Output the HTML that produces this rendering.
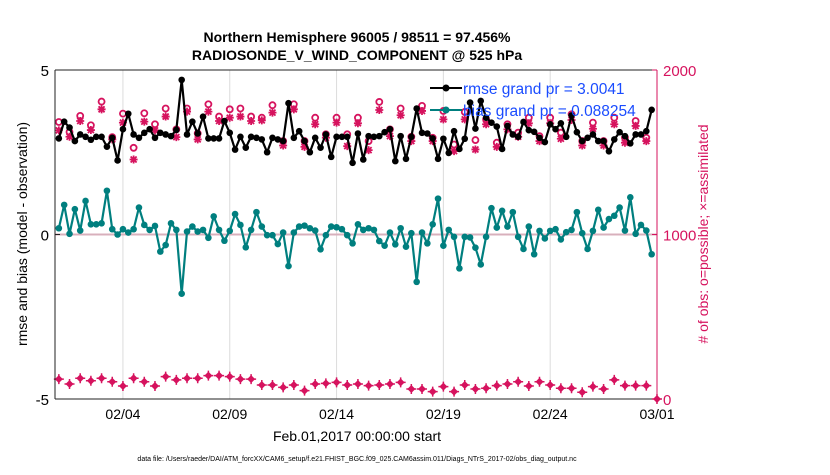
<!DOCTYPE html>
<html><head><meta charset="utf-8"><style>
body{margin:0;background:#fff;}
svg text{font-family:"Liberation Sans",Arial,sans-serif;}
</style></head><body>
<svg id="chart" width="830" height="470" xmlns="http://www.w3.org/2000/svg">
<rect width="830" height="470" fill="#fff"/>
<g id="grid"></g>
<g id="marks"></g>
<g id="axes"></g>
<text x="357" y="42" text-anchor="middle" font-size="14" font-weight="bold">Northern Hemisphere 96005 / 98511 = 97.456%</text>
<text x="357" y="60" text-anchor="middle" font-size="14" font-weight="bold">RADIOSONDE_V_WIND_COMPONENT @ 525 hPa</text>
<text transform="translate(27,234) rotate(-90)" text-anchor="middle" font-size="14">rmse and bias (model - observation)</text>
<text transform="translate(708,234) rotate(-90)" text-anchor="middle" font-size="14" fill="#d6135e">&#35; of obs: o=possible; &#215;=assimilated</text>
<text x="357" y="441" text-anchor="middle" font-size="14">Feb.01,2017 00:00:00 start</text>
<text x="357" y="461" text-anchor="middle" font-size="7">data file: /Users/raeder/DAI/ATM_forcXX/CAM6_setup/f.e21.FHIST_BGC.f09_025.CAM6assim.011/Diags_NTrS_2017-02/obs_diag_output.nc</text>
<g id="legend">
<line x1="430" y1="88" x2="462" y2="88" stroke="#000" stroke-width="2"/>
<circle cx="446" cy="88" r="3.5" fill="#000"/>
<text x="463" y="94" font-size="15.5" fill="#1a4cff">rmse grand pr = 3.0041</text>
<line x1="430" y1="110" x2="462" y2="110" stroke="#007f7f" stroke-width="2"/>
<circle cx="446" cy="110" r="3.5" fill="#007f7f"/>
<text x="463" y="116" font-size="15.5" fill="#1a4cff">bias grand pr = 0.088254</text>
</g>
</svg>
<script>
const rmse=[2.92,3.43,3.25,2.84,3.04,2.97,2.88,2.97,2.97,2.67,2.94,2.25,3.20,3.67,3.04,2.94,3.09,3.20,2.94,3.09,3.04,2.99,3.18,4.70,3.04,3.43,3.07,3.58,2.92,2.92,2.92,3.45,3.09,2.58,2.97,2.64,2.97,2.94,2.89,2.50,2.94,2.89,2.84,3.99,2.94,3.14,2.84,2.50,2.94,2.64,3.04,2.36,2.97,2.97,2.97,2.18,3.07,2.28,2.99,2.97,2.99,3.11,3.20,2.23,2.99,2.30,2.97,3.83,3.09,3.07,2.92,2.30,2.91,2.48,3.14,2.60,2.91,4.01,3.22,4.06,3.55,3.40,3.28,2.60,3.30,3.04,2.97,3.42,3.17,3.12,2.94,2.81,3.35,3.20,3.38,2.97,3.62,3.11,2.84,2.94,3.04,2.84,2.84,2.53,2.89,3.11,2.99,2.77,3.04,3.04,3.14,3.79];
const bias=[0.19,0.90,0.02,0.77,0.12,1.02,0.31,0.31,0.34,1.33,0.16,0.0,0.16,0.06,0.16,0.82,0.29,0.14,0.26,-0.52,-0.32,0.34,0.14,-1.80,0.09,0.24,0.09,0.14,-0.10,0.55,0.14,-0.19,0.11,0.62,0.29,-0.39,0.14,0.68,0.24,-0.02,-0.02,-0.29,0.06,-0.96,0.06,0.24,0.27,0.19,0.12,-0.45,-0.02,0.24,0.22,0.16,-0.02,-0.27,0.31,0.14,0.19,0.14,-0.20,-0.34,0.06,-0.30,0.19,-0.37,0.04,-1.44,0.06,-0.27,0.31,1.09,-0.34,0.14,-0.07,-1.03,-0.07,-0.09,-0.40,-0.91,-0.07,0.80,0.21,0.72,0.24,0.68,-0.07,-0.44,0.24,-0.60,0.11,-0.12,0.11,0.16,-0.15,0.07,0.14,0.68,0.04,-0.44,0.11,0.75,0.21,0.47,0.57,0.82,0.12,1.13,0.02,0.29,0.12,-0.60];
const nPossible=[1684,1623,1721,1664,1808,1592,1735,1527,1737,1670,1766,1639,1766,1615,1792,1717,1761,1766,1717,1710,1786,1568,1792,1568,1710,1609,1710,1609,1710,1568,1806,1639,1766,1594,1782,1588,1751,1547,1745,1574,1700,1558,1670,1619,1710,1598,1710,1619,1731,1568,1680,1568,1710,1588,1690,1588];
const nAssim=[1633,1594,1690,1635,1761,1578,1680,1456,1686,1633,1717,1592,1747,1578,1747,1690,1710,1717,1690,1694,1741,1541,1761,1533,1670,1588,1680,1537,1676,1513,1757,1598,1725,1568,1751,1568,1700,1507,1700,1517,1670,1533,1639,1594,1676,1568,1676,1582,1696,1541,1643,1541,1670,1558,1660,1568];
const nOther=[121,91,126,111,126,105,79,126,105,79,136,116,126,126,142,142,136,121,121,85,85,71,85,51,91,95,101,85,91,81,85,91,101,61,61,45,75,45,85,61,65,81,91,105,79,105,85,65,65,41,75,61,116,81,81,81,0];
const xTickDays=[3,8,13,18,23,28];
const xTickLabels=["02/04","02/09","02/14","02/19","02/24","03/01"];
const yLeftTicks=[-5,0,5];
const yRightTicks=[0,1000,2000];

const NS="http://www.w3.org/2000/svg";
const L=55,R=657,T=70,B=399,D0=-0.18,D1=28;
const xs=d=>L+(d-D0)/(D1-D0)*(R-L);
const yl=v=>B-(v+5)/10*(B-T);
const yr=c=>B-c/2000*(B-T);
function mk(tag,attrs,parent){const e=document.createElementNS(NS,tag);for(const k in attrs)e.setAttribute(k,attrs[k]);parent.appendChild(e);return e;}
const grid=document.getElementById('grid'),marks=document.getElementById('marks'),axes=document.getElementById('axes');
const PINK="#d6135e",TEAL="#007f7f";

xTickDays.forEach((d,i)=>{
  const g=mk('line',{x1:xs(d),x2:xs(d),y1:T,y2:B,stroke:'#dcdcdc','stroke-width':1},grid);
  
  
  const t=mk('text',{x:xs(d),y:B+20,'text-anchor':'middle','font-size':14},axes);
  t.textContent=xTickLabels[i];
  
  
});
const zl=mk('line',{x1:L,x2:R,y1:yl(0),y2:yl(0),stroke:'#d8b0bc','stroke-width':2},grid);



// bottom obs markers
nOther.forEach((c,i)=>{
  const t=i<56?0.5*i:28;
  const g=mk('g',{},marks);
  
  
  const x=xs(t),y=yr(c);
  mk('path',{d:`M${x-4} ${y}L${x} ${y-4}L${x+4} ${y}L${x} ${y+4}Z`,fill:PINK},g);
  mk('path',{d:`M${x-5} ${y}H${x+5}M${x} ${y-5}V${y+5}`,stroke:PINK,'stroke-width':1.5},g);
});
// possible / assimilated
nPossible.forEach((c,i)=>{
  const x=xs(0.5*i);
  const o=mk('circle',{cx:x,cy:yr(c),r:3,fill:'none',stroke:PINK,'stroke-width':1.8},marks);
  
  
  const y=yr(nAssim[i]);
  const a=mk('path',{d:`M${x-4} ${y}H${x+4}M${x} ${y-4}V${y+4}M${x-3} ${y-3}L${x+3} ${y+3}M${x-3} ${y+3}L${x+3} ${y-3}`,stroke:PINK,'stroke-width':1.8},marks);
  
  
});
function series(vals,color,name){
  const pts=vals.map((v,i)=>[xs(0.25*i),yl(v)]);
  const p=mk('polyline',{points:pts.map(p=>p.join(',')).join(' '),fill:'none',stroke:color,'stroke-width':2.2,'stroke-linejoin':'round'},marks);
  
  
  pts.forEach(q=>{
    const c=mk('circle',{cx:q[0],cy:q[1],r:3.3,fill:color},marks);
    
    
  });
}
series(bias,TEAL,'bias');
series(rmse,'#000','rmse');

// axes
const ax1=mk('line',{x1:L,x2:L,y1:T,y2:B,stroke:'#222','stroke-width':1},axes);


const ax2=mk('line',{x1:L,x2:R,y1:B,y2:B,stroke:'#222','stroke-width':1},axes);


const ax3=mk('line',{x1:L,x2:R,y1:T,y2:T,stroke:'#222','stroke-width':1},axes);


const ax4=mk('line',{x1:R,x2:R,y1:T,y2:B,stroke:PINK,'stroke-width':1},axes);


yLeftTicks.forEach(v=>{
  mk('line',{x1:L,x2:L+5,y1:yl(v),y2:yl(v),stroke:'#222'},axes);
  const t=mk('text',{x:L-6,y:yl(v)+6,'text-anchor':'end','font-size':15},axes);
  t.textContent=v;
  
  
});
yRightTicks.forEach(v=>{
  mk('line',{x1:R-5,x2:R,y1:yr(v),y2:yr(v),stroke:PINK},axes);
  const t=mk('text',{x:R+6,y:yr(v)+6,'font-size':15,fill:PINK},axes);
  t.textContent=v;
  
  
});
</script>
</body></html>
